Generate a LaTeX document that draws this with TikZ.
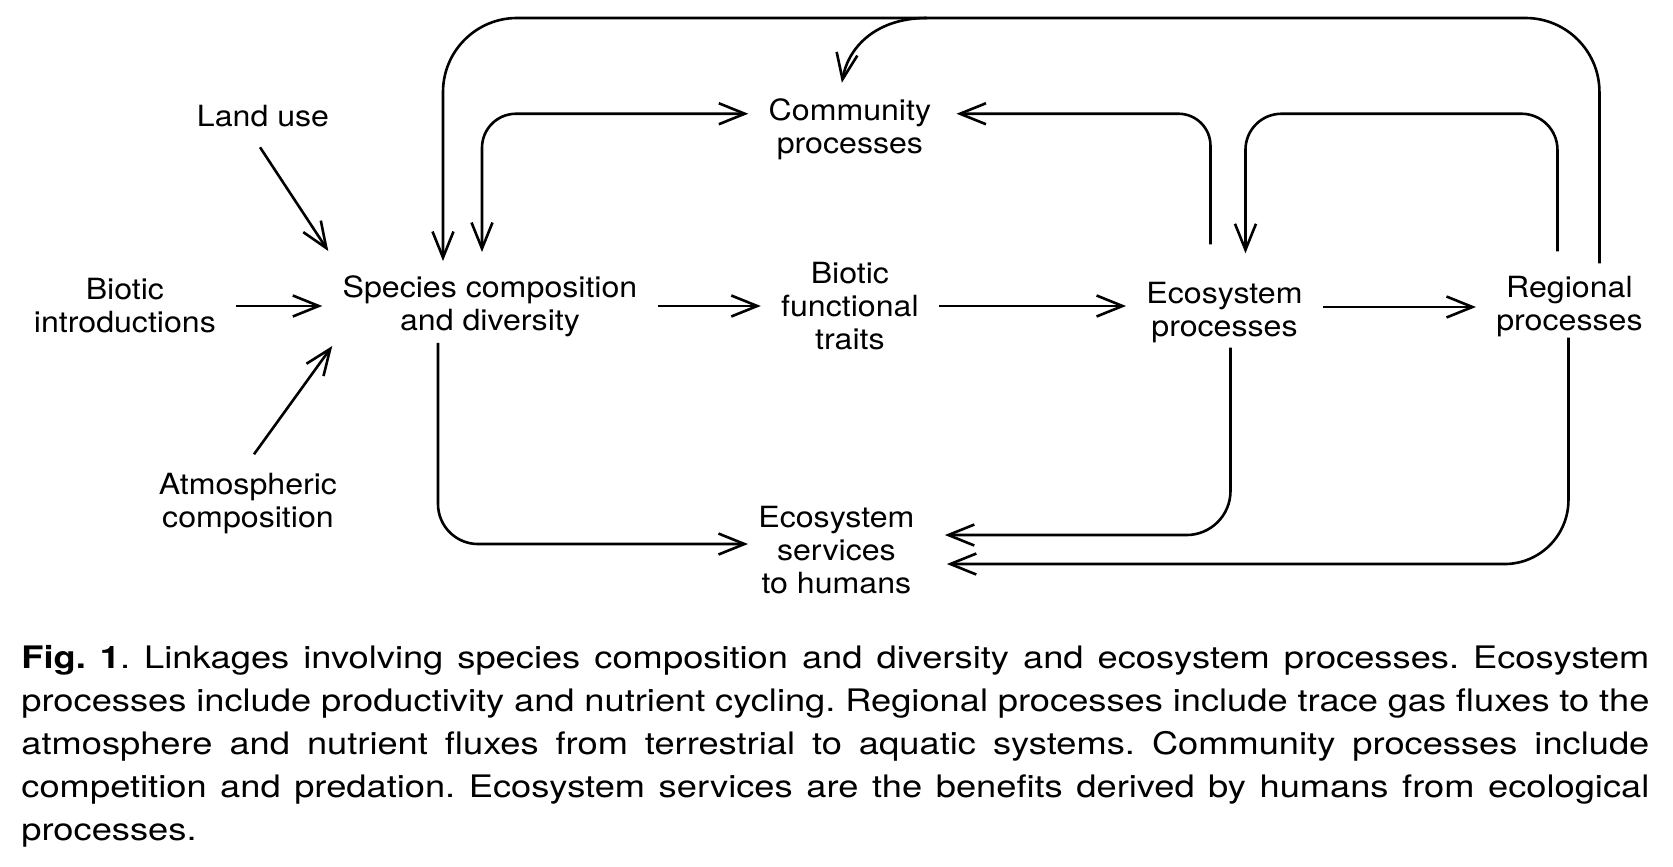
\documentclass[tikz,border=0pt]{standalone}
\usepackage{fontspec}
\setmainfont{TeX Gyre Heros}[FakeStretch=1.1]
\newfontfamily\capfont{TeX Gyre Heros}[FakeStretch=1.17]
\usepackage{tikz}
\usetikzlibrary{arrows.meta, positioning}

\begin{document}
\begin{tikzpicture}[x=0.5pt, y=-0.5pt,
  lbl/.style={align=center, inner xsep=10pt, inner ysep=2pt,
    font=\fontsize{14.6pt}{16.5pt}\selectfont},
  capt/.style={text width=814pt, align=justify, inner sep=0pt,
    font=\capfont\fontsize{15.5pt}{21.5pt}\selectfont},
  arr/.style={->, >={Straight Barb[length=13pt, width=10.5pt]}, line width=1.3pt},
  arrboth/.style={arr, <->}]

  \useasboundingbox (0,0) rectangle (1673,866);

  \node[lbl] (sp) at (490,306) {Species composition\\and diversity};
  \node[lbl, right=51.5pt of sp] (bf) {Biotic\\functional\\traits};
  \node[lbl, right=93.5pt of bf, yshift=-3.5pt] (ep) {Ecosystem\\processes};
  \node[lbl, right=76.5pt of ep, yshift=3pt] (rp) {Regional\\processes};
  \node[lbl, left=43pt of sp] (bi) {Biotic\\introductions};
  \node[lbl, above=46.5pt of bf] (cp) {Community\\processes};
  \node[lbl, below=74pt of bf, xshift=-6.75pt] (es) {Ecosystem\\services\\to humans};
  \node[lbl] (lu) at (263,116) {Land use};
  \node[lbl] (am) at (248,504) {Atmospheric\\composition};

  \node[capt, anchor=north west] (fig) at (21,645) {\frenchspacing
    \textbf{Fig.\ 1}. Linkages involving species composition and diversity and ecosystem processes. Ecosystem\linebreak
    processes include productivity and nutrient cycling. Regional processes include trace gas fluxes to the\linebreak
    atmosphere and nutrient fluxes from terrestrial to aquatic systems. Community processes include\linebreak
    competition and predation. Ecosystem services are the benefits derived by humans from ecological\linebreak
    processes.};

  \coordinate (br) at (927,18);
  \coordinate (spA) at ([xshift=-23.5pt,yshift=5pt]sp.north);
  \coordinate (spB) at ([xshift=-4pt,yshift=9.5pt]sp.north);
  \coordinate (spC) at ([xshift=-26pt,yshift=-1pt]sp.south);
  \coordinate (cpW) at ([yshift=8pt]cp.west);
  \coordinate (cpE) at ([xshift=2.5pt,yshift=8pt]cp.east);
  \coordinate (cpN) at ([xshift=-4pt,yshift=6pt]cp.north);
  \coordinate (epA) at ([xshift=-7pt,yshift=17pt]ep.north);
  \coordinate (epB) at ([xshift=10.5pt,yshift=12.5pt]ep.north);
  \coordinate (epC) at ([xshift=3pt]ep.south);
  \coordinate (rpA) at ([xshift=15pt,yshift=4.5pt]rp.north);
  \coordinate (rpB) at ([xshift=-6pt,yshift=10.5pt]rp.north);
  \coordinate (rpC) at ([xshift=-0.5pt,yshift=2pt]rp.south);
  \coordinate (esW) at ([xshift=5pt,yshift=3.25pt]es.west);
  \coordinate (esE1) at ([xshift=5pt,yshift=7.75pt]es.east);
  \coordinate (esE2) at ([xshift=6pt,yshift=-6.75pt]es.east);

  % drivers into species composition
  \draw[arr] ([xshift=-1.5pt,yshift=-8pt]lu.south) -- ([xshift=3pt,yshift=10pt]sp.north west);
  \draw[arr] (bi.east) -- (bi.east -| sp.west);
  \draw[arr] ([xshift=3pt,yshift=7.5pt]am.north) -- ([xshift=5pt,yshift=-2.5pt]sp.south west);

  % main chain
  \draw[arr] (sp.east) -- (sp.east -| bf.west);
  \draw[arr] (bf.east) -- (bf.east -| ep.west);
  \draw[arr] (rp.west -| ep.east) -- (rp.west);

  % feedback loops
  \draw[arr, rounded corners=37pt] (rpA) |- (spA |- br) -- (spA);
  \draw[arr] (br) .. controls (875,18) and (848,48) .. (cpN);
  \draw[arrboth, rounded corners=17pt] (spB) |- (cpW);
  \draw[arr, rounded corners=16pt] (epA) |- (cpE);
  \draw[arr, rounded corners=18pt] (rpB) |- (epB |- cpE) -- (epB);

  % services to humans
  \draw[arr, rounded corners=20pt] (spC) |- (esW);
  \draw[arr, rounded corners=22pt] (epC) |- (esE1);
  \draw[arr, rounded corners=32pt] (rpC) |- (esE2);

\end{tikzpicture}
\end{document}
